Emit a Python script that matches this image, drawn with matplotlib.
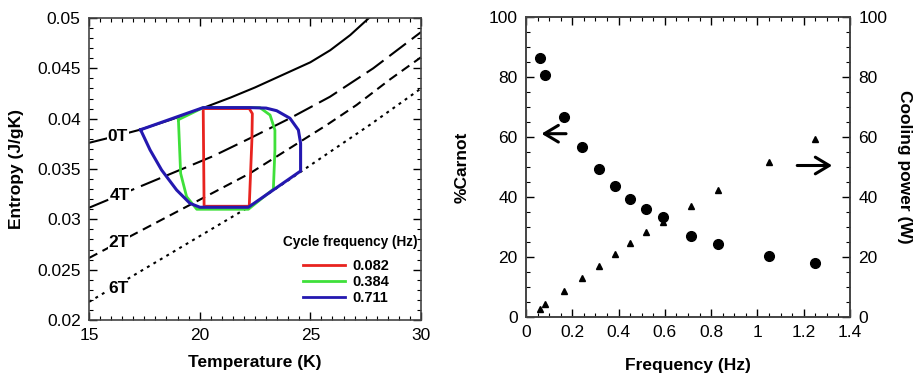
import numpy as np
import matplotlib
matplotlib.use("Agg")
import matplotlib.pyplot as plt
from matplotlib.ticker import MultipleLocator, FixedLocator, FixedFormatter
from matplotlib.lines import Line2D

plt.rcParams['font.family'] = ['Liberation Sans', 'DejaVu Sans']

# ---- left panel: entropy curves ----
t_0T = [15, 16.1, 17.3, 18.7, 20.2, 21.4, 22.5, 24.0, 25.0, 25.9, 26.8, 27.65]
s_0T = [0.0376, 0.0382, 0.0389, 0.0399, 0.0411, 0.0421, 0.0431, 0.0446, 0.0456, 0.0468, 0.0483, 0.0500]
t_4T = [15, 20.6, 22.27, 24.08, 25.89, 27.84, 30]
s_4T = [0.03115, 0.03627, 0.03805, 0.04004, 0.04218, 0.0450, 0.0486]
t_2T = [15, 22.27, 25.74, 27.09, 28.6, 30]
s_2T = [0.02616, 0.03457, 0.03937, 0.04136, 0.0439, 0.0461]
t_6T = [15, 22.2, 24.55, 27.7, 30]
s_6T = [0.0218, 0.0312, 0.0347, 0.0394, 0.0430]
field_labels = ["0T", "4T", "2T", "6T"]
label_pos = [(16.3, 0.0382), (16.4, 0.03237), (16.35, 0.02767), (16.35, 0.02311)]

# cycles
t_red = [20.16, 22.24, 22.38, 22.36, 22.24, 20.2, 20.16]
s_red = [0.0410, 0.0410, 0.0405, 0.0379, 0.0313, 0.0313, 0.0410]
t_green = [19.04, 20.16, 22.72, 23.18, 23.4, 23.4, 23.33, 22.2, 19.87, 19.41, 19.14, 19.04]
s_green = [0.0399, 0.0411, 0.0411, 0.04036, 0.03887, 0.03689, 0.0330, 0.0310, 0.0310, 0.03225, 0.03457, 0.0399]
t_blue = [17.33, 20.16, 22.24, 23.0, 23.48, 24.08, 24.46, 24.56, 24.56, 22.2, 20.01, 19.56, 18.96, 18.28, 17.76, 17.33]
s_blue = [0.0389, 0.0411, 0.0411, 0.04105, 0.04079, 0.04004, 0.03887, 0.03755, 0.0348, 0.0312, 0.0312, 0.03159, 0.03291, 0.0349, 0.03689, 0.0389]
cycle_freqs = ["0.082", "0.384", "0.711"]

# ---- right panel ----
freq = [0.06, 0.082, 0.164, 0.24, 0.316, 0.384, 0.45, 0.52, 0.59, 0.711, 0.83, 1.05, 1.25]
carnot = [86.3, 80.7, 66.7, 56.6, 49.2, 43.6, 39.3, 36.0, 33.3, 27.0, 24.2, 20.4, 18.1]
power = [2.8, 4.2, 8.7, 13.1, 17.1, 21.0, 24.6, 28.3, 31.6, 36.9, 42.2, 51.6, 59.4]

fig = plt.figure(figsize=(9.16, 3.76), dpi=100)
ax1 = fig.add_axes([89/916, 1-320/376, 332/916, 302/376])
ax2 = fig.add_axes([526/916, 1-317/376, 324/916, 300/376])

red, green, blue = '#e8231f', '#3fe03a', '#2418b0'
lw = 1.5
ax1.plot(t_0T, s_0T, color='black', lw=lw)
ax1.plot(t_4T, s_4T, color='black', lw=lw, dashes=(10, 3.5))
ax1.plot(t_2T, s_2T, color='black', lw=lw, dashes=(4.5, 2.8))
ax1.plot(t_6T, s_6T, color='black', lw=lw, dashes=(1.4, 2.2))
for txt, (x, y) in zip(field_labels, label_pos):
    ax1.text(x, y, txt, fontsize=12.5, fontweight='bold', ha='center', va='center',
             bbox=dict(facecolor='white', edgecolor='none', pad=0.5))

ax1.plot(t_red, s_red, color=red, lw=2)
ax1.plot(t_green, s_green, color=green, lw=2)
ax1.plot(t_blue, s_blue, color=blue, lw=2.2)

# legend: title as its own text, entries below
ax1.text(0.786, 0.258, "Cycle frequency (Hz)", transform=ax1.transAxes,
         fontsize=9.8, fontweight='bold', ha='center', va='center')
handles = [Line2D([], [], color=c, lw=2) for c in (red, green, blue)]
ax1.legend(handles, cycle_freqs, loc='center', bbox_to_anchor=(0.775, 0.125),
           frameon=False, handlelength=2.9, handletextpad=0.5, labelspacing=0.12,
           borderpad=0, prop={'weight': 'bold', 'size': 10.5})

ax1.set_xlim(15, 30)
ax1.set_ylim(0.02, 0.05)
ax1.xaxis.set_major_locator(MultipleLocator(5))
ax1.xaxis.set_minor_locator(MultipleLocator(0.5))
ax1.yaxis.set_minor_locator(MultipleLocator(0.001))
ax1.set_yticks([0.02, 0.025, 0.03, 0.035, 0.04, 0.045, 0.05])
ax1.set_yticklabels(["0.02", "0.025", "0.03", "0.035", "0.04", "0.045", "0.05"])
ax1.set_xlabel("Temperature (K)", fontsize=12.5, fontweight='bold')
ax1.set_ylabel("Entropy (J/gK)", fontsize=12.5, fontweight='bold')
ax1.xaxis.set_label_coords(0.5, -0.115)
ax1.yaxis.set_label_coords(-0.195, 0.5)

# right panel
ax2.plot(freq, carnot, 'o', color='black', ms=7)
ax3 = ax2.twinx()
ax3.plot(freq, power, '^', color='black', ms=5)
ax2.set_xlim(0, 1.4)
ax2.set_ylim(0, 100)
ax3.set_ylim(0, 100)
ax2.xaxis.set_major_locator(FixedLocator([0, 0.2, 0.4, 0.6, 0.8, 1.0, 1.2, 1.4]))
ax2.xaxis.set_major_formatter(FixedFormatter(["0", "0.2", "0.4", "0.6", "0.8", "1", "1.2", "1.4"]))
ax2.xaxis.set_minor_locator(MultipleLocator(0.05))
for a in (ax2, ax3):
    a.yaxis.set_major_locator(MultipleLocator(20))
    a.yaxis.set_minor_locator(MultipleLocator(5))
ax2.set_xlabel("Frequency (Hz)", fontsize=12.5, fontweight='bold')
ax2.set_ylabel("%Carnot", fontsize=12.5, fontweight='bold')
ax3.set_ylabel("Cooling power (W)", fontsize=12.5, fontweight='bold', rotation=270, va='bottom')
ax2.xaxis.set_label_coords(0.5, -0.137)
ax2.yaxis.set_label_coords(-0.175, 0.5)
ax3.yaxis.set_label_coords(1.145, 0.5)

arrow = dict(arrowstyle='->,head_length=1.0,head_width=0.6', lw=2.2, color='black')
ax2.annotate("", xy=(0.055, 61.1), xytext=(0.185, 61.1), arrowprops=arrow)
ax2.annotate("", xy=(1.335, 50.5), xytext=(1.16, 50.5), arrowprops=arrow)

for a in (ax1, ax2, ax3):
    a.tick_params(which='both', direction='in', labelsize=12.5, pad=6)
    a.tick_params(which='major', length=6, width=1)
    a.tick_params(which='minor', length=3, width=0.8)
    for sp in a.spines.values():
        sp.set_color('#444444')
        sp.set_linewidth(1.2)
ax1.tick_params(which='both', top=True, right=True)
ax2.tick_params(which='both', top=True)

fig.savefig("out.png", dpi=100)
